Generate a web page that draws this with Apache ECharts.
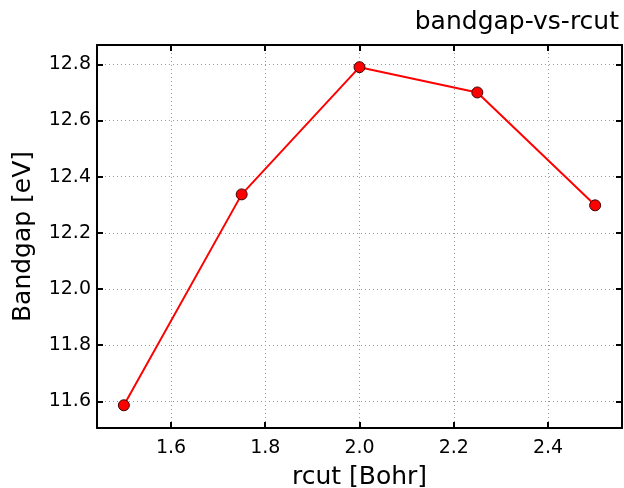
<!DOCTYPE html>
<html>
<head>
<meta charset="utf-8">
<script src="https://cdn.jsdelivr.net/npm/echarts@6/dist/echarts.min.js"></script>
<style>
  html, body { margin: 0; padding: 0; background: #fff; }
  #chart { width: 624px; height: 488px; }
</style>
</head>
<body>
<div id="chart"></div>
<script>
// data
const rcut = [1.5, 1.75, 2.0, 2.25, 2.5]
const bandgap = [11.586, 12.337, 12.79, 12.70, 12.298]
const xTicks = [1.6, 1.8, 2.0, 2.2, 2.4]
const yTicks = [11.6, 11.8, 12.0, 12.2, 12.4, 12.6, 12.8]

const font = 'DejaVu Sans'
let chart = echarts.init(document.getElementById('chart'), null, { renderer: 'canvas' })

const tickStyle = { color: '#000', width: 2 }

function baseAxis(extra) {
  return Object.assign({
    type: 'value',
    axisLine: { show: true, onZero: false, lineStyle: { color: '#000', width: 2 } },
    splitLine: { show: false },
    axisLabel: { show: false }
  }, extra)
}

let option = {
  animation: false,
  title: {
    text: 'bandgap-vs-rcut',
    right: 5,
    top: 10,
    padding: 0,
    textStyle: { fontFamily: font, fontSize: 25, fontWeight: 'normal', color: '#000' }
  },
  grid: { left: 97, right: 2, top: 45, bottom: 60, containLabel: false, outerBoundsMode: 'none' },
  xAxis: [
    baseAxis({
      position: 'bottom',
      min: 1.443, max: 2.557,
      name: 'rcut [Bohr]',
      nameLocation: 'middle',
      nameGap: 37,
      nameTextStyle: { fontFamily: font, fontSize: 25, color: '#000' },
      axisLabel: {
        show: true, fontFamily: font, fontSize: 19, color: '#000', margin: 11,
        customValues: xTicks,
        formatter: v => v.toFixed(1)
      },
      axisTick: { show: true, inside: true, length: 6, customValues: xTicks, lineStyle: tickStyle },
      splitLine: { show: true, customValues: xTicks, lineStyle: { color: '#999', type: [1, 3], width: 1 } }
    }),
    baseAxis({
      position: 'top',
      min: 1.443, max: 2.557,
      axisTick: { show: true, inside: true, length: 6, customValues: xTicks, lineStyle: tickStyle }
    })
  ],
  yAxis: [
    baseAxis({
      position: 'left',
      min: 11.505, max: 12.869,
      name: 'Bandgap [eV]',
      nameLocation: 'middle',
      nameGap: 61,
      nameTextStyle: { fontFamily: font, fontSize: 25, color: '#000' },
      axisLabel: {
        show: true, fontFamily: font, fontSize: 19, color: '#000', margin: 6,
        customValues: yTicks,
        formatter: v => v.toFixed(1)
      },
      axisTick: { show: true, inside: true, length: 6, customValues: yTicks, lineStyle: tickStyle },
      splitLine: { show: true, customValues: yTicks, lineStyle: { color: '#999', type: [1, 3], width: 1 } }
    }),
    baseAxis({
      position: 'right',
      min: 11.505, max: 12.869,
      axisTick: { show: true, inside: true, length: 6, customValues: yTicks, lineStyle: tickStyle }
    })
  ],
  series: [
    {
      type: 'line',
      data: rcut.map((x, i) => [x, bandgap[i]]),
      symbol: 'circle',
      symbolSize: 11,
      lineStyle: { color: '#ff0000', width: 2 },
      itemStyle: { color: '#ff0000', borderColor: '#400000', borderWidth: 1 }
    }
  ]
}
chart.setOption(option)
</script>
</body>
</html>
